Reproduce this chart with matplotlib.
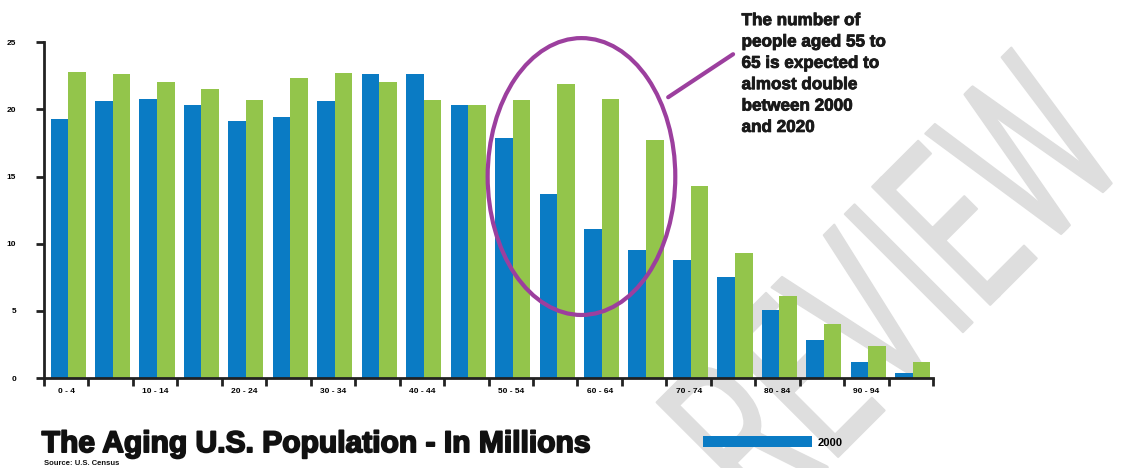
import numpy as np
import matplotlib
matplotlib.use('Agg')
import matplotlib.pyplot as plt
import matplotlib.patheffects as pe
from matplotlib.patches import Ellipse, PathPatch
from matplotlib.textpath import TextPath
from matplotlib.font_manager import FontProperties
from matplotlib.transforms import Affine2D

# --- data (millions of people) ---
age_groups = ['0 - 4', '5 - 9', '10 - 14', '15 - 19', '20 - 24', '25 - 29', '30 - 34',
              '35 - 39', '40 - 44', '45 - 49', '50 - 54', '55 - 59', '60 - 64', '65 - 69',
              '70 - 74', '75 - 79', '80 - 84', '85 - 89', '90 - 94', '95 - 99']
pop_2000 = [19.3, 20.6, 20.8, 20.3, 19.1, 19.4, 20.6, 22.6, 22.6, 20.3,
            17.9, 13.7, 11.1, 9.5, 8.8, 7.5, 5.1, 2.85, 1.2, 0.4]
pop_2020 = [22.8, 22.6, 22.0, 21.5, 20.7, 22.3, 22.7, 22.0, 20.7, 20.3,
            20.7, 21.9, 20.8, 17.7, 14.3, 9.3, 6.1, 4.0, 2.4, 1.2]
y_ticks = [0, 5, 10, 15, 20, 25]

title = 'The Aging U.S. Population - In Millions'
source = 'Source: U.S. Census'
note = ('The number of\npeople aged 55 to\n65 is expected to\n'
        'almost double\nbetween 2000\nand 2020')

blue = '#0a7bc4'
green = '#93c54b'
purple = '#9c3f9e'

plt.rcParams['font.family'] = ['Liberation Sans', 'DejaVu Sans']

fig = plt.figure(figsize=(11.27, 4.68), dpi=100)

# --- watermark: condensed "REVIEW" drawn as a path, rotated 45 deg ---
tp = TextPath((0, 0), 'REVIEW', size=1,
              prop=FontProperties(family='Roboto', weight='normal'))
ext = tp.get_extents()
cap = ext.y1 - ext.y0
wm_scale = 167 / cap
wm_tf = (Affine2D()
         .translate(-(ext.x0 + ext.x1) / 2, -(ext.y0 + ext.y1) / 2)
         .scale(wm_scale * 0.62, wm_scale)
         .rotate_deg(45)
         .translate(893, 468 - 284))
fig.patches.append(PathPatch(tp, transform=wm_tf, facecolor='#dedede',
                             edgecolor='#dedede', linewidth=1.5,
                             joinstyle='round', zorder=-5))

ax = fig.add_axes([0.039, 0.192, 0.789, 0.718])
ax.patch.set_alpha(0)

x = np.arange(len(age_groups))
w = 0.395
bars00 = ax.bar(x - 0.155, pop_2000, width=w, color=blue, label='2000', zorder=2)
ax.bar(x + 0.24, pop_2020, width=w, color=green, label='2020', zorder=2)

ax.set_xlim(-0.5, len(age_groups) - 0.5)
ax.set_ylim(0, 25)

# axis styling
for s in ['top', 'right']:
    ax.spines[s].set_visible(False)
for s in ['left', 'bottom']:
    ax.spines[s].set_linewidth(2)
    ax.spines[s].set_color('#222222')

ax.set_yticks(y_ticks)
ax.set_yticklabels([str(v) for v in y_ticks], fontsize=6, fontweight='bold')
ax.tick_params(axis='y', length=6, width=2, color='#222222', pad=14)

# ticks at group boundaries, labels on every other group centre
ax.set_xticks(np.arange(-0.5, len(age_groups), 1.0))
ax.set_xticklabels([])
ax.tick_params(axis='x', which='major', length=6, width=2, color='#222222')
ax.set_xticks(x[::2], minor=True)
ax.set_xticklabels(age_groups[::2], minor=True, fontsize=6, fontweight='bold')
ax.tick_params(axis='x', which='minor', length=0, pad=7)

# callout ellipse and leader line
ax.add_patch(Ellipse((11.59, 15.0), 4.22, 20.6, fill=False, edgecolor=purple,
                     linewidth=3, clip_on=False, zorder=4))
ax.plot([13.54, 15.0], [20.9, 24.1], color=purple, linewidth=3,
        solid_capstyle='round', clip_on=False, zorder=4)

fig.text(0.658, 0.972, note, fontsize=12.3, fontweight='bold', va='top', ha='left',
         linespacing=1.53, color='#1a1a1a',
         path_effects=[pe.withStroke(linewidth=0.6, foreground='#1a1a1a')])

# title and source
fig.text(0.037, 0.034, title, fontsize=21.6, fontweight='bold', ha='left',
         va='baseline', color='#111111',
         path_effects=[pe.withStroke(linewidth=1.3, foreground='#111111')])
fig.text(0.039, 0.006, source, fontsize=5.5, fontweight='bold', ha='left',
         va='baseline', color='#111111')

# legend (only the 2000 entry is visible in the original)
fig.legend(handles=[bars00], labels=['2000'], loc='center left',
           bbox_to_anchor=(0.624, 0.056), frameon=False,
           prop={'weight': 'bold', 'size': 8}, handlelength=9.8,
           handleheight=1.2, handletextpad=0.5, borderpad=0, borderaxespad=0)

fig.savefig('out.png', dpi=100)
